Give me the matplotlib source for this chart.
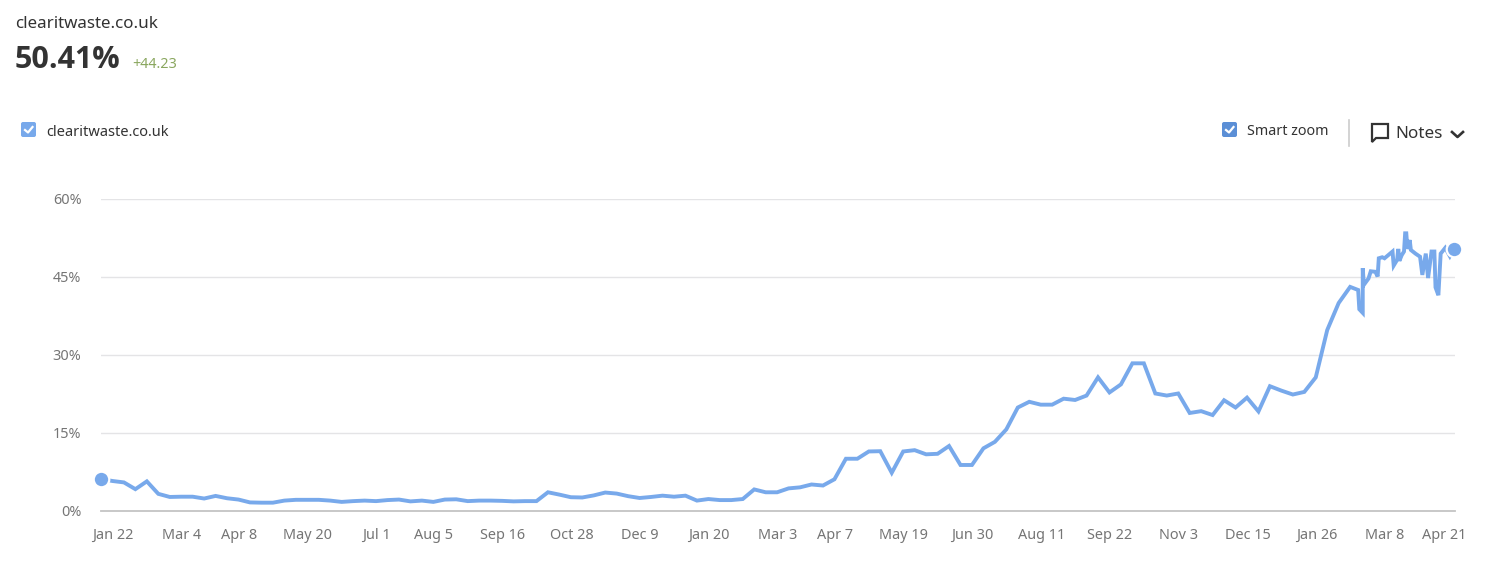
import matplotlib
matplotlib.use('Agg')
import matplotlib.pyplot as plt
import matplotlib.patches as mpatches
from matplotlib.transforms import ScaledTranslation
import numpy as np

plt.rcParams['font.family'] = ['Noto Sans', 'DejaVu Sans']

SITE = 'clearitwaste.co.uk'

# one value a week
weekly_values = [
    6.18, 5.77, 5.5, 4.2, 5.7, 3.3, 2.7, 2.75, 2.75, 2.4,
    2.9, 2.45, 2.2, 1.65, 1.6, 1.6, 2.0, 2.15, 2.15, 2.15,
    2.0, 1.75, 1.9, 2.0, 1.9, 2.1, 2.2, 1.85, 2.0, 1.75,
    2.2, 2.25, 1.9, 2.0, 2.0, 1.95, 1.85, 1.9, 1.9, 3.6,
    3.15, 2.65, 2.6, 3.0, 3.55, 3.35, 2.85, 2.5, 2.7, 2.95,
    2.75, 2.95, 2.0, 2.3, 2.1, 2.1, 2.3, 4.15, 3.6, 3.6,
    4.35, 4.55, 5.1, 4.9, 6.1, 10.05, 10.05, 11.45, 11.5, 7.35,
    11.45, 11.7, 10.9, 11.0, 12.5, 8.85, 8.85, 12.05, 13.3, 15.7,
    19.9, 21.0, 20.45, 20.45, 21.6, 21.35, 22.2, 25.7, 22.8, 24.35,
    28.4, 28.4, 22.6, 22.2, 22.6, 18.85, 19.2, 18.45, 21.3, 19.9,
    21.8, 19.15, 24.0, 23.15, 22.4, 22.9, 25.7, 34.8, 40.0, 43.1,
]
weekly_x = list(range(len(weekly_values)))

# the last stretch is daily, so these have their own positions (in weeks)
daily_x = [
    109.7, 109.8, 110.1, 110.1, 110.2, 110.6, 110.8, 111.2, 111.4, 111.5,
    111.8, 112.0, 112.7, 112.8, 113.1, 113.2, 113.3, 113.5, 113.7, 113.8,
    113.9, 114.0, 114.2, 114.3, 114.7, 115.1, 115.3, 115.6, 115.8, 116.1,
    116.35, 116.45, 116.7, 116.9, 117.3, 117.7, 118.05,
]
daily_values = [
    42.5, 38.8, 38.1, 46.7, 43.5, 44.7, 46.1, 46.0, 45.1, 48.6,
    48.8, 48.6, 49.9, 47.2, 48.3, 50.4, 48.1, 49.2, 49.9, 53.4,
    53.4, 50.4, 52.1, 50.2, 49.5, 48.9, 45.4, 49.5, 44.8, 49.9,
    49.9, 43.0, 41.5, 49.5, 50.6, 49.0, 50.41,
]

tick_weeks = [0, 6, 11, 17, 23, 28, 34, 40, 46, 52, 58, 63, 69, 75, 81, 87, 93, 99, 105, 111, 116.2]
tick_labels = ['Jan 22', 'Mar 4', 'Apr 8', 'May 20', 'Jul 1', 'Aug 5', 'Sep 16', 'Oct 28',
               'Dec 9', 'Jan 20', 'Mar 3', 'Apr 7', 'May 19', 'Jun 30', 'Aug 11', 'Sep 22',
               'Nov 3', 'Dec 15', 'Jan 26', 'Mar 8', 'Apr 21']
y_ticks = [0, 15, 30, 45, 60]

W, H = 1486, 564
LINE = '#78a9eb'
GREY = '#757575'
DARK = '#333333'

fig = plt.figure(figsize=(W / 100, H / 100), dpi=100, facecolor='white')
ax = fig.add_axes([101 / W, (H - 511) / H, (1455 - 101) / W, (511 - 199) / H])

x = weekly_x + daily_x
y = weekly_values + daily_values
ax.plot(x, y, color=LINE, lw=2.8, solid_joinstyle='miter', clip_on=False, zorder=3)
ax.plot([x[0], x[-1]], [y[0], y[-1]], ls='none', marker='o', ms=11.2, mfc=LINE, mec='white', mew=1.6,
        clip_on=False, zorder=4)

ax.set_xlim(0, (1455 - 101) / 11.46)
ax.set_ylim(0, 60)
ax.set_yticks(y_ticks)
ax.set_yticklabels([f'{t}%' for t in y_ticks], color=GREY, fontsize=10.4)
ax.set_xticks(tick_weeks)
ax.set_xticklabels(tick_labels, color=GREY, fontsize=10.4)
ax.tick_params(length=0)
ax.tick_params(axis='y', pad=14)
ax.tick_params(axis='x', pad=12.5)
# date labels sit a little to the right of their data point
shift = ScaledTranslation(12 / 100, 0, fig.dpi_scale_trans)
for lab in ax.get_xticklabels():
    lab.set_transform(lab.get_transform() + shift)

ax.grid(axis='y', color='#e4e4e6', lw=1.0)
ax.set_axisbelow(True)
for name, sp in ax.spines.items():
    sp.set_visible(False)
ax.axhline(0, color='#c4c4c4', lw=1.3, zorder=1, clip_on=False)

# header and controls drawn on an overlay in pixel coordinates
ui = fig.add_axes([0, 0, 1, 1], facecolor='none')
ui.set_xlim(0, W)
ui.set_ylim(H, 0)
ui.axis('off')

ui.text(15, 23.5, SITE, fontsize=12.2, color=DARK, va='center')
ui.text(15, 60, '50.41%', fontsize=22, color=DARK, va='center', fontweight='bold',
        family=['Open Sans', 'DejaVu Sans'])
ui.text(132, 64, '+44.23', fontsize=10.4, color='#8aa75f', va='center')


def checkbox(x0, y0, color):
    ui.add_patch(mpatches.FancyBboxPatch((x0 + 1, y0 + 1), 13, 13, boxstyle='round,pad=1,rounding_size=2',
                                         fc=color, ec='none'))
    ui.plot([x0 + 4, x0 + 7, x0 + 11.5], [y0 + 8, y0 + 10.5, y0 + 5], color='white', lw=1.6)


checkbox(21, 122, LINE)
ui.text(46, 132.5, SITE, fontsize=10.5, color=DARK, va='center')

checkbox(1222, 122, '#5b8fd6')
ui.text(1247, 131.5, 'Smart zoom', fontsize=10.3, color=DARK, va='center')
ui.plot([1349, 1349], [120, 146], color='#cccccc', lw=1.2)

# speech bubble icon
ui.add_patch(mpatches.Polygon([(1372, 124), (1388, 124), (1388, 138), (1376, 138), (1372, 142)],
                              closed=True, fc='none', ec=DARK, lw=1.6, joinstyle='miter'))
ui.text(1395, 133.5, 'Notes', fontsize=12.3, color=DARK, va='center')
ui.plot([1452, 1457.5, 1463], [132, 137, 132], color=DARK, lw=1.9)

fig.savefig('out.png', dpi=100)
